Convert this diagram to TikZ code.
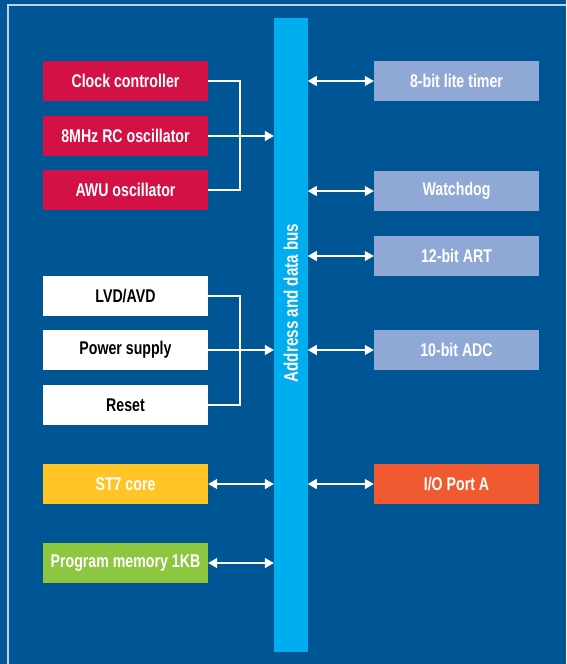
\documentclass[tikz,border=0pt]{standalone}
\usepackage{fontspec}
\setmainfont{Liberation Sans}[FakeStretch=0.77]
\usetikzlibrary{arrows.meta}
\definecolor{stblue}{RGB}{0, 85, 148}
\definecolor{buscyan}{RGB}{0, 174, 239}
\definecolor{stred}{RGB}{211, 17, 69}
\definecolor{perblue}{RGB}{143, 168, 214}
\definecolor{styellow}{RGB}{255, 196, 37}
\definecolor{stgreen}{RGB}{141, 198, 63}
\definecolor{storange}{RGB}{241, 90, 48}
\definecolor{framel}{RGB}{190, 210, 235}

\begin{document}
\begin{tikzpicture}[x = 1pt, y = -1pt,
    blk/.style = {minimum width = 165pt, minimum height = 40pt, inner sep = 0pt,
                  font = \fontsize{18.4}{18}\selectfont\bfseries},
    wire/.style = {white, line width = 1.4pt},
    arr/.style = {wire, -{Triangle[length = 9pt, width = 10pt]}},
    dbl/.style = {wire, {Triangle[length = 9pt, width = 10pt]}-{Triangle[length = 9pt, width = 10pt]}}]
			\useasboundingbox[fill = stblue] (0,0) rectangle (566,664);
			\draw[framel, line width = 1.3pt] (566,5) -- (8,5) -- (8,664);
			% address and data bus
			\node (bus) at (290.8,335) [fill = buscyan, minimum width = 33.5pt, minimum height = 634pt, inner sep = 0pt] {};
			\node at (290.8,303) [rotate = 90, text = white, font = \fontsize{19.7}{19}\selectfont\bfseries] {Address and data bus};
			% left column
			\node (clk) at (125.5,81) [blk, fill = stred, text = white] {Clock controller};
			\node (rc) at (125.5,136) [blk, fill = stred, text = white] {8MHz RC oscillator};
			\node (awu) at (125.5,190) [blk, fill = stred, text = white] {AWU oscillator};
			\node (lvd) at (125.5,296) [blk, fill = white, text = black] {LVD/AVD};
			\node (pwr) at (125.5,350) [blk, fill = white, text = black] {Power supply};
			\node (rst) at (125.5,405) [blk, fill = white, text = black] {Reset};
			\node (core) at (125.5,484) [blk, fill = styellow, text = white] {ST7 core};
			\node (mem) at (125.5,563) [blk, fill = stgreen, text = white] {Program memory 1KB};
			% right column
			\node (tim) at (456.5,81) [blk, fill = perblue, text = white] {8-bit lite timer};
			\node (wdg) at (456.5,191) [blk, fill = perblue, text = white] {Watchdog};
			\node (art) at (456.5,256) [blk, fill = perblue, text = white] {12-bit ART};
			\node (adc) at (456.5,350) [blk, fill = perblue, text = white] {10-bit ADC};
			\node (io) at (456.5,484) [blk, fill = storange, text = white] {I/O Port A};
			% brackets
			\coordinate (j1) at (240,136);
			\coordinate (j2) at (240,350);
			\draw[wire] (clk.east) -| (j1) |- (awu.east);
			\draw[wire] (lvd.east) -| (j2) |- (rst.east);
			\draw[arr] (rc.east) -- (rc.east -| bus.west);
			\draw[arr] (pwr.east) -- (pwr.east -| bus.west);
			\draw[dbl] (core.east) -- (core.east -| bus.west);
			\draw[dbl] (mem.east) -- (mem.east -| bus.west);
			\draw[dbl] (tim.west -| bus.east) -- (tim.west);
			\draw[dbl] (wdg.west -| bus.east) -- (wdg.west);
			\draw[dbl] (art.west -| bus.east) -- (art.west);
			\draw[dbl] (adc.west -| bus.east) -- (adc.west);
			\draw[dbl] (io.west -| bus.east) -- (io.west);
			\end{tikzpicture}
\end{document}
